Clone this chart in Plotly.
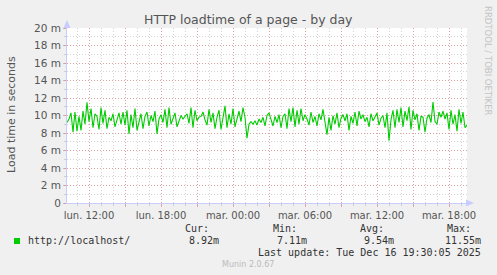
import pandas as pd
import plotly.graph_objects as go

# ---- data (load time in milliseconds, 10-minute samples) ----
start_time = "2025-12-15 10:10"
end_time = "2025-12-16 19:30"
load_ms = [
    9.2, 9.6, 10.3, 8.1, 10.4, 8.2, 9.9, 8.3, 10.5, 9.0,
    11.5, 9.3, 10.8, 8.6, 10.2, 9.9, 8.4, 10.9, 9.1, 10.6,
    8.5, 9.8, 9.4, 10.2, 8.7, 9.6, 10.3, 9.0, 10.4, 8.9,
    10.6, 7.9, 10.1, 8.6, 10.8, 8.3, 9.3, 10.2, 8.5, 9.9,
    10.4, 8.8, 10.0, 9.3, 10.5, 7.9, 9.6, 10.1, 9.2, 10.7,
    8.6, 10.9, 9.0, 9.8, 10.3, 8.7, 9.5, 10.0, 9.6, 9.9,
    10.2, 9.1, 10.9, 8.6, 10.6, 9.4, 9.8, 9.9, 10.4, 9.5,
    8.9, 10.7, 9.2, 10.3, 8.5, 9.8, 10.6, 8.4, 9.9, 11.1,
    8.6, 10.2, 9.0, 10.8, 8.7, 9.6, 10.5, 9.3, 10.9, 9.8,
    7.4, 9.0, 9.3, 9.0, 9.4, 8.9, 9.6, 9.2, 9.8, 8.8,
    10.0, 10.3, 9.5, 8.8, 9.9, 9.2, 10.1, 8.6, 9.9, 10.2,
    8.5, 10.8, 9.3, 10.9, 8.7, 10.6, 9.0, 10.8, 9.4, 10.1,
    9.6, 8.9, 10.4, 9.2, 9.9, 8.8, 10.2, 9.5, 10.7, 9.3,
    7.8, 9.8, 8.3, 10.0, 9.0, 10.3, 8.6, 9.7, 10.1, 9.4,
    10.2, 8.3, 9.9, 9.1, 10.4, 8.8, 10.5, 9.6, 10.1, 9.3,
    9.8, 8.7, 10.2, 9.4, 9.9, 10.3, 8.9, 9.7, 10.0, 8.6,
    10.3, 7.11, 9.5, 10.6, 8.6, 10.7, 9.2, 10.9, 8.7, 10.5,
    9.4, 11.0, 8.4, 10.6, 9.5, 10.2, 8.3, 9.9, 9.8, 8.1,
    9.7, 10.1, 9.2, 11.55, 9.3, 9.0, 10.4, 9.8, 10.5, 9.6,
    10.3, 8.4, 10.6, 9.0, 10.1, 8.2, 10.7, 9.1, 10.4, 8.6,
    8.92,
]
times = pd.date_range(start_time, periods=len(load_ms), freq="10min")

y_tick_vals = [0, 2, 4, 6, 8, 10, 12, 14, 16, 18, 20]
y_tick_text = ["0", "2 m", "4 m", "6 m", "8 m", "10 m", "12 m", "14 m", "16 m", "18 m", "20 m"]
x_tick_vals = pd.date_range("2025-12-15 12:00", "2025-12-16 18:00", freq="3h")
x_tick_text = ["lun. 12:00", "", "lun. 18:00", "", "mar. 00:00", "", "mar. 06:00", "",
               "mar. 12:00", "", "mar. 18:00"]

series_name = "http://localhost/"
stat_labels = ["Cur:", "Min:", "Avg:", "Max:"]
stat_values = ["8.92m", "7.11m", "9.54m", "11.55m"]
last_update = "Last update: Tue Dec 16 19:30:05 2025"

# ---- layout helpers (pixel -> paper) ----
L, R, T, B = 67, 467, 28, 203
def px(x):
    return (x - L) / (R - L)
def py(y):
    return (B - y) / (B - T)

GREEN = "#00CC00"
MAJOR = "rgba(225,120,120,0.55)"
MINOR = "rgba(170,170,170,0.5)"
AXIS = "#C8CCFF"
DOTS = "1px,2px"

fig = go.Figure()
fig.add_trace(go.Scatter(x=times, y=load_ms, mode="lines",
                         line=dict(color=GREEN, width=1.1), hoverinfo="skip",
                         showlegend=False))

fig.update_layout(
    width=497, height=275,
    margin=dict(l=L, r=497 - R, t=T, b=275 - B),
    paper_bgcolor="#F0F0F0", plot_bgcolor="#FFFFFF",
    font=dict(family="DejaVu Sans", size=10, color="#555555"),
    showlegend=False, hovermode=False,
)
fig.update_xaxes(
    range=[times[0], times[-1]],
    tickvals=x_tick_vals, ticktext=x_tick_text,
    showgrid=True, gridcolor=MAJOR, griddash=DOTS, gridwidth=1,
    ticks="outside", ticklen=3, tickcolor=MAJOR,
    showline=True, linecolor=AXIS, linewidth=1,
    tickfont=dict(size=10, color="#555555"),
    minor=dict(dtick=3600000, tick0="2025-12-15 11:00", showgrid=True,
               gridcolor=MINOR, griddash=DOTS, ticks="outside", ticklen=2,
               tickcolor=MINOR),
    zeroline=False, fixedrange=True,
)
fig.update_yaxes(
    range=[0, 20],
    tickvals=y_tick_vals, ticktext=y_tick_text,
    showgrid=True, gridcolor=MAJOR, griddash=DOTS, gridwidth=1,
    ticks="outside", ticklen=3, tickcolor=MAJOR,
    showline=True, linecolor=AXIS, linewidth=1,
    tickfont=dict(size=10.5, color="#555555"),
    minor=dict(dtick=1, showgrid=True, gridcolor=MINOR, griddash=DOTS,
               ticks="outside", ticklen=2, tickcolor=MINOR),
    zeroline=False, fixedrange=True,
)

# axis arrows
fig.add_shape(type="path", xref="paper", yref="paper",
              path=f"M {px(63.5)} {py(28)} L {px(67)} {py(20)} L {px(70.5)} {py(28)} Z",
              fillcolor=AXIS, line=dict(width=0))
fig.add_shape(type="path", xref="paper", yref="paper",
              path=f"M {px(466)} {py(199.5)} L {px(474)} {py(203)} L {px(466)} {py(206.5)} Z",
              fillcolor=AXIS, line=dict(width=0))

ann = []
ann.append(dict(text="HTTP loadtime of a page - by day", x=px(248), y=py(19),
                font=dict(size=12.5, color="#555555")))
ann.append(dict(text="Load time in seconds", x=px(11), y=py(114), textangle=-90,
                font=dict(size=11, color="#555555")))
ann.append(dict(text="RRDTOOL / TOBI OETIKER", x=px(488), y=py(4), yanchor="top",
                textangle=90, font=dict(size=8.5, color="#C4C4C4")))
MONO = "DejaVu Sans Mono"
ann.append(dict(text=series_name, x=px(26), y=py(240), xanchor="left",
                font=dict(family=MONO, size=10, color="#333333")))
stat_x = [221, 309, 396, 483]
label_x = [197, 285, 372, 459]
for lx, vx, lab, val in zip(label_x, stat_x, stat_labels, stat_values):
    ann.append(dict(text=lab, x=px(lx), y=py(228), font=dict(family=MONO, size=10, color="#333333")))
    ann.append(dict(text=val, x=px(vx), y=py(240), xanchor="right",
                    font=dict(family=MONO, size=10, color="#333333")))
ann.append(dict(text=last_update, x=px(483), y=py(252), xanchor="right",
                font=dict(family=MONO, size=10, color="#333333")))
ann.append(dict(text="Munin 2.0.67", x=px(248), y=py(264),
                font=dict(size=8, color="#BBBBBB")))
for a in ann:
    a.setdefault("xref", "paper")
    a.setdefault("yref", "paper")
    a.setdefault("showarrow", False)
    a.setdefault("xanchor", "center")
    a.setdefault("yanchor", "middle")
    fig.add_annotation(**a)

fig.add_shape(type="rect", xref="paper", yref="paper",
              x0=px(14), x1=px(20), y0=py(238), y1=py(244),
              fillcolor=GREEN, line=dict(width=0))

fig.write_html("out.html")
